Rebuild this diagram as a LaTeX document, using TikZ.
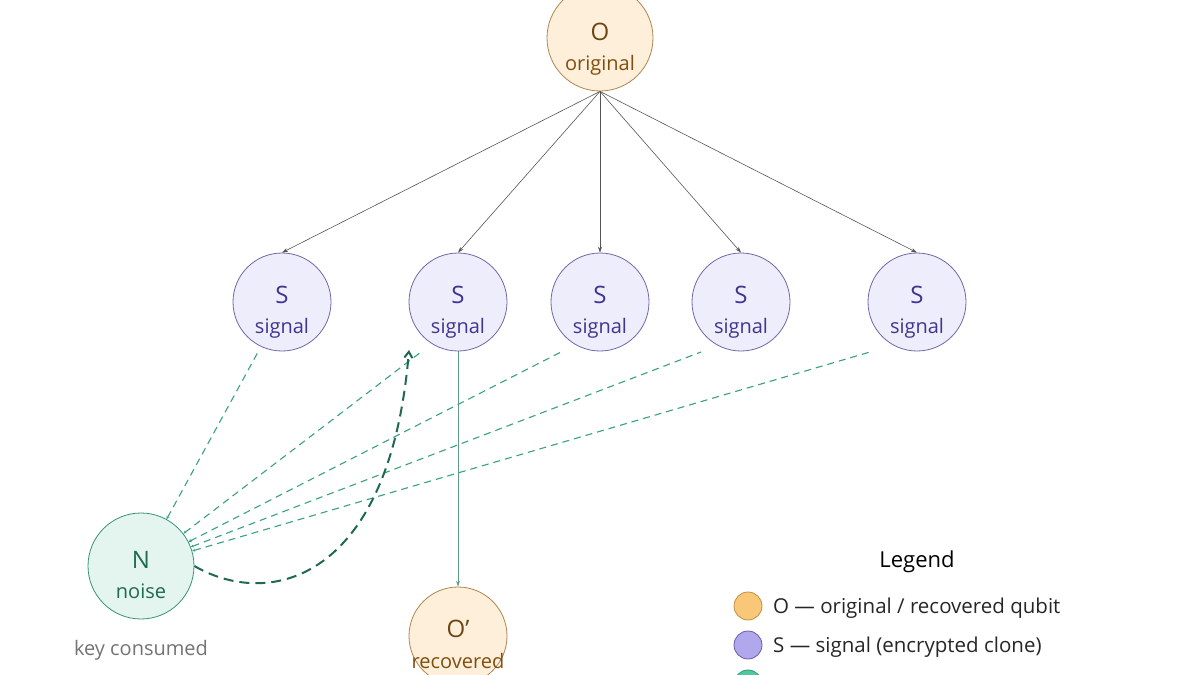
\documentclass[tikz,border=0pt]{standalone}
\usepackage{fontspec}
\setmainfont{Open Sans}
\usetikzlibrary{arrows.meta,calc}
\definecolor{ofill}{HTML}{FDEFD9}
\definecolor{ostroke}{HTML}{B08550}
\definecolor{otext}{HTML}{6B4513}
\definecolor{sfill}{HTML}{EEEDFB}
\definecolor{sstroke}{HTML}{7366A8}
\definecolor{stext}{HTML}{3F3590}
\definecolor{nfill}{HTML}{E3F5EE}
\definecolor{nstroke}{HTML}{3A9274}
\definecolor{ntext}{HTML}{1E6A50}
\definecolor{thin}{HTML}{3AA080}
\definecolor{thick}{HTML}{1F6A4E}
\definecolor{down}{HTML}{5F9A88}
\definecolor{edge}{HTML}{555555}
\definecolor{lgo}{HTML}{F8C878}
\definecolor{lgos}{HTML}{C09040}
\definecolor{lgs}{HTML}{B0A8EC}
\definecolor{lgss}{HTML}{6A5AA8}
\definecolor{lgn}{HTML}{50C8A0}
\definecolor{lgns}{HTML}{2F9A78}
\tikzset{
  onode/.style={circle,draw=ostroke,fill=ofill,line width=0.8pt,minimum size=106pt,inner sep=0pt},
  snode/.style={circle,draw=sstroke,fill=sfill,line width=0.8pt,minimum size=98pt,inner sep=0pt},
  nnode/.style={circle,draw=nstroke,fill=nfill,line width=0.8pt,minimum size=106pt,inner sep=0pt},
  rnode/.style={circle,draw=ostroke,fill=ofill,line width=0.8pt,minimum size=98pt,inner sep=0pt},
  bigtxt/.style={anchor=base,inner sep=0pt,font=\fontsize{24}{28}\selectfont},
  smalltxt/.style={anchor=base,inner sep=0pt,font=\fontsize{20}{24}\selectfont},
  fanout/.style={draw=edge,line width=0.6pt,-{Stealth[length=6pt,width=4pt]}},
  noiseline/.style={draw=thin,line width=1.1pt,dash pattern=on 7pt off 5pt,{Stealth[length=3pt,width=3pt]}-},
  decode/.style={draw=thick,line width=2pt,dash pattern=on 10pt off 6pt,-{Straight Barb[length=6pt,width=8pt]}},
  recov/.style={draw=down,line width=0.9pt,-{Stealth[length=6pt,width=4pt]}},
  legdot/.style={circle,line width=0.8pt,minimum size=28pt,inner sep=0pt},
  legtxt/.style={anchor=base west,inner sep=0pt,font=\fontsize{20.5}{24}\selectfont,text=black!85}
}
\begin{document}
\begin{tikzpicture}[x=1pt,y=-1pt]
\useasboundingbox (0,0) rectangle (1200,675);
\begin{scope}
\clip (0,0) rectangle (1200,675);
% nodes
\node[onode] (o) at (600,38) {};
\node[snode] (s1) at (282,302) {};
\node[snode] (s2) at (458,302) {};
\node[snode] (s3) at (600,302) {};
\node[snode] (s4) at (741,302) {};
\node[snode] (s5) at (917,302) {};
\node[nnode] (n) at (141,566) {};
\node[rnode] (r) at (458,636) {};
% texts
\node[bigtxt,text=otext] (ot1) at ($(o)+(0,2)$) {O};
\node[smalltxt,text=otext!85!orange] (ot2) at ($(o)+(0,32)$) {original};
\foreach \s in {s1,s2,s3,s4,s5}{
  \node[bigtxt,text=stext] (\s t1) at ($(\s)+(0,1)$) {S};
  \node[smalltxt,text=stext] (\s t2) at ($(\s)+(0,31)$) {signal};
}
\node[bigtxt,text=ntext] (nt1) at ($(n)+(0,2)$) {N};
\node[smalltxt,text=ntext] (nt2) at ($(n)+(0,32)$) {noise};
\node[bigtxt,text=otext] (rt1) at ($(r)+(0,1)$) {O’};
\node[smalltxt,text=otext!85!orange] (rt2) at ($(r)+(0,32)$) {recovered};
\node[smalltxt,text=black!55] (kc) at (141,655) {key consumed};
% fan-out
\foreach \s in {s1,s2,s3,s4,s5}{
  \draw[fanout] (o.south) -- (\s.north);
}
% noise lines
\coordinate (e1) at ($(s1)+(-24,50)$);
\coordinate (e2) at ($(s2)+(-37,50)$);
\coordinate (e3) at ($(s3)+(-39,50)$);
\coordinate (e4) at ($(s4)+(-40,50)$);
\coordinate (e5) at ($(s5)+(-47,50)$);
\foreach \e in {e1,e2,e3,e4,e5}{
  \draw[noiseline] (n) -- (\e);
}
% recovered
\draw[recov] (s2.south) -- (r.north);
% decode curve
\coordinate (ce) at ($(s2)+(-49,48)$);
\draw[decode] (n.east) .. controls (270,610) and (390,580) .. (ce);
% legend
\node[anchor=base,inner sep=0pt,font=\fontsize{22}{26}\selectfont] (lg) at (917,567) {Legend};
\node[legdot,draw=lgos,fill=lgo] (l1) at (748,606) {};
\node[legtxt] (l1t) at (773,613) {O — original / recovered qubit};
\node[legdot,draw=lgss,fill=lgs] (l2) at (748,645) {};
\node[legtxt] (l2t) at (773,652) {S — signal (encrypted clone)};
\node[legdot,draw=lgns,fill=lgn] (l3) at (748,684) {};
\end{scope}
\end{tikzpicture}
\end{document}
